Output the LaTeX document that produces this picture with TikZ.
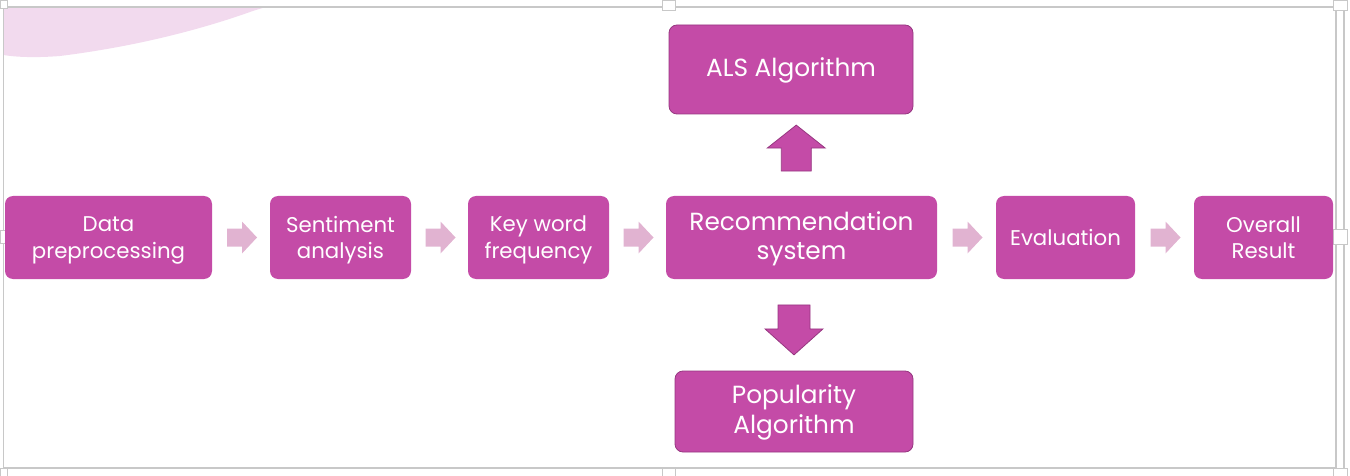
\documentclass[tikz,border=0pt]{standalone}
\usepackage{fontspec}
\setmainfont{Poppins}
\usetikzlibrary{calc}
\definecolor{boxfill}{RGB}{196,75,167}
\definecolor{boxedge}{RGB}{150,55,128}
\definecolor{lightarrow}{RGB}{225,179,209}
\definecolor{swoosh}{RGB}{242,218,238}
\definecolor{framegray}{RGB}{200,200,200}
\newcommand\myst{\rule[-5pt]{0pt}{26pt}}
\tikzset{
  box/.style={rectangle, rounded corners=8pt, fill=boxfill, text=white, align=center, inner sep=0pt, minimum height=83pt},
  sidebox/.style={box, draw=boxedge, line width=0.8pt},
  smalltext/.style={font=\fontsize{21.3}{26.5}\selectfont},
  bigtext/.style={font=\fontsize{24.8}{29.5}\selectfont},
  harrow/.style={fill=lightarrow},
  varrow/.style={fill=boxfill, draw=boxedge, line width=0.8pt},
  frameline/.style={draw=framegray, line width=1.5pt},
  handle/.style={fill=white, draw=framegray, line width=0.8pt}
}
\begin{document}
\begin{tikzpicture}[x=1pt, y=-1pt]
\useasboundingbox (0,0) rectangle (1350,476);
% background swoosh
\fill[swoosh] (3.5,7) -- (266,7) -- (256,10) -- (250,12)
  .. controls (205,28) and (140,46) .. (60,56)
  .. controls (35,58) and (15,57) .. (3.5,55) -- cycle;
% frame
\draw[frameline] (1336,7) -- (3.5,7) -- (3.5,468) -- (1336,468);
\draw[frameline] (1336,7) -- (1336,468);
\draw[frameline, line width=2pt] (1344,7) -- (1344,476);
% handles
\draw[handle] (0,0) rectangle (7,8);
\draw[handle] (662,0) rectangle (675,10);
\draw[handle] (1333,0) rectangle (1347,10);
\draw[handle] (0,230) rectangle (6,243);
\draw[handle] (1333,229) rectangle (1347,244);
\draw[handle] (0,468) rectangle (7,476);
\draw[handle] (662,468) rectangle (675,476);
\draw[handle] (1333,468) rectangle (1347,476);
% nodes
\node[box, smalltext, minimum width=207pt] (data) at (108.5,237.5) {\myst Data\\preprocessing\myst};
\node[box, smalltext, minimum width=141pt] (sent) at (340.5,237.5) {\myst Sentiment\\analysis\myst};
\node[box, smalltext, minimum width=141pt] (key) at (538.5,237.5) {\myst Key word\\frequency\myst};
\node[box, bigtext, minimum width=271pt] (rec) at (801.5,237.5) {\myst Recommendation\\system\myst};
\node[box, smalltext, minimum width=139pt] (eval) at (1065.5,237.5) {\myst Evaluation\myst};
\node[box, smalltext, minimum width=139pt] (over) at (1263.5,237.5) {\myst Overall\\Result\myst};
\node[sidebox, bigtext, minimum width=244pt, minimum height=89pt] (als) at (791,69.5) {\myst ALS Algorithm\myst};
\node[sidebox, bigtext, minimum width=238pt, minimum height=81pt] (pop) at (794,411.5) {\myst Popularity\\Algorithm\myst};
% horizontal block arrows
\coordinate (h1) at ($(data.east)!0.5!(sent.west)$);
\coordinate (h2) at ($(sent.east)!0.5!(key.west)$);
\coordinate (h3) at ($(key.east)!0.5!(rec.west)$);
\coordinate (h4) at ($(rec.east)!0.5!(eval.west)$);
\coordinate (h5) at ($(eval.east)!0.5!(over.west)$);
\foreach \c in {h1,h2,h3,h4,h5}{
  \begin{scope}[shift={(\c)}]
    \fill[harrow] (-14,-9) -- (1,-9) -- (1,-16) -- (16,0) -- (1,16) -- (1,9) -- (-14,9) -- cycle;
  \end{scope}
}
% vertical block arrows
\coordinate (vu) at ($(als.south)!0.5!(rec.north)$);
\begin{scope}[shift={(vu)}]
  \draw[varrow] (-15,16) -- (-15,-7) -- (-29,-7) -- (0,-30) -- (29,-7) -- (15,-7) -- (15,16) -- cycle;
\end{scope}
\coordinate (vd) at ($(rec.south -| pop.north)!0.5!(pop.north)$);
\begin{scope}[shift={(vd)}]
  \draw[varrow] (-16,-20) -- (-16,4) -- (-29,4) -- (0,30) -- (29,4) -- (16,4) -- (16,-20) -- cycle;
\end{scope}
\end{tikzpicture}
\end{document}
